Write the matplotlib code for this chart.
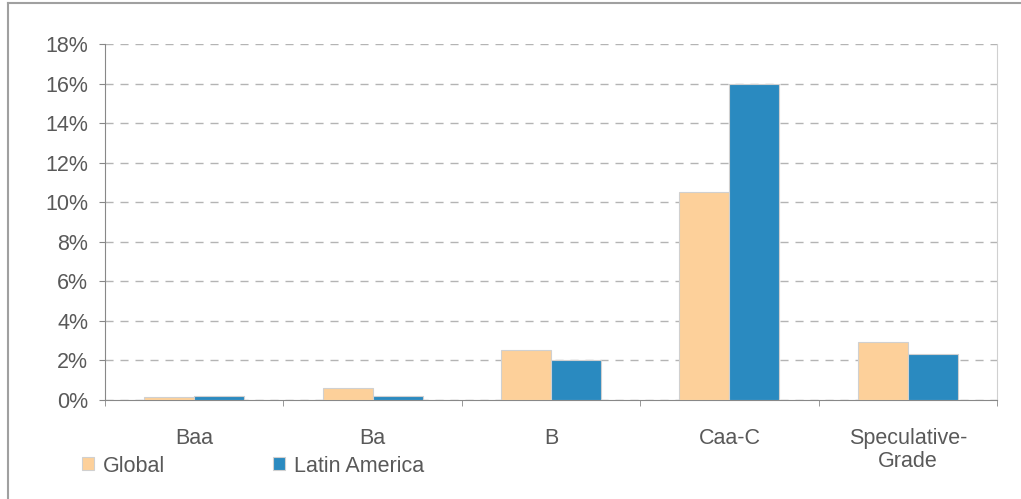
import numpy as np
import matplotlib.pyplot as plt
from matplotlib.lines import Line2D
from matplotlib.ticker import PercentFormatter

categories = ['Baa', 'Ba', 'B', 'Caa-C', 'Speculative-\nGrade']
global_vals = [0.13, 0.63, 2.55, 10.5, 2.95]
latam_vals = [0.2, 0.2, 2.0, 16.0, 2.35]

plt.rcParams['font.family'] = ['Liberation Sans', 'DejaVu Sans']
text_col = '#595959'
fs = 15.5

fig = plt.figure(figsize=(10.21, 4.99), dpi=100)
W, H = 1021, 499
ax = fig.add_axes([105 / W, 1 - 400 / H, (997 - 105) / W, (400 - 44) / H])

x = np.arange(len(categories))
w = 0.28
ax.bar(x - w / 2, global_vals, w, color='#FDD09A', edgecolor='#d0d0d0', linewidth=0.8,
       label='Global', zorder=3)
ax.bar(x + w / 2, latam_vals, w, color='#2A8AC0', edgecolor='#d0d0d0', linewidth=0.8,
       label='Latin America', zorder=3)

ax.set_xlim(-0.5, len(categories) - 0.5)
ax.set_ylim(0, 18)
ax.set_yticks(np.arange(0, 19, 2))
ax.yaxis.set_major_formatter(PercentFormatter(decimals=0))
ax.grid(axis='y', color='#b4b4b4', linestyle=(0, (5.8, 5)), linewidth=1, zorder=0)

ax.set_xticks(x)
ax.set_xticklabels(categories, linespacing=1.15)
ax.set_xticks(np.arange(-0.5, len(categories)), minor=True)
ax.tick_params(axis='x', which='major', length=0, pad=20, labelsize=fs, colors=text_col)
ax.tick_params(axis='x', which='minor', length=4, color='#888888')
ax.tick_params(axis='y', length=4, pad=8, labelsize=fs, colors=text_col, color='#888888')

ax.spines['top'].set_visible(False)
ax.spines['left'].set_color('#888888')
ax.spines['bottom'].set_color('#888888')
ax.spines['right'].set_color('#d0d0d0')

leg = fig.legend(loc='center left', bbox_to_anchor=(82 / W, 1 - 466 / H), ncol=2,
                 frameon=False, fontsize=fs, handlelength=0.56, handleheight=0.56,
                 handletextpad=0.42, columnspacing=5.0, borderpad=0, borderaxespad=0)
for t in leg.get_texts():
    t.set_color(text_col)

# outer chart border
fig.add_artist(Line2D([8 / W, 8 / W], [0, 1 - 3 / H], color='#a0a0a0', lw=1.5))
fig.add_artist(Line2D([8 / W, 1], [1 - 3 / H, 1 - 3 / H], color='#a0a0a0', lw=1.5))

fig.savefig('out.png', dpi=100)
